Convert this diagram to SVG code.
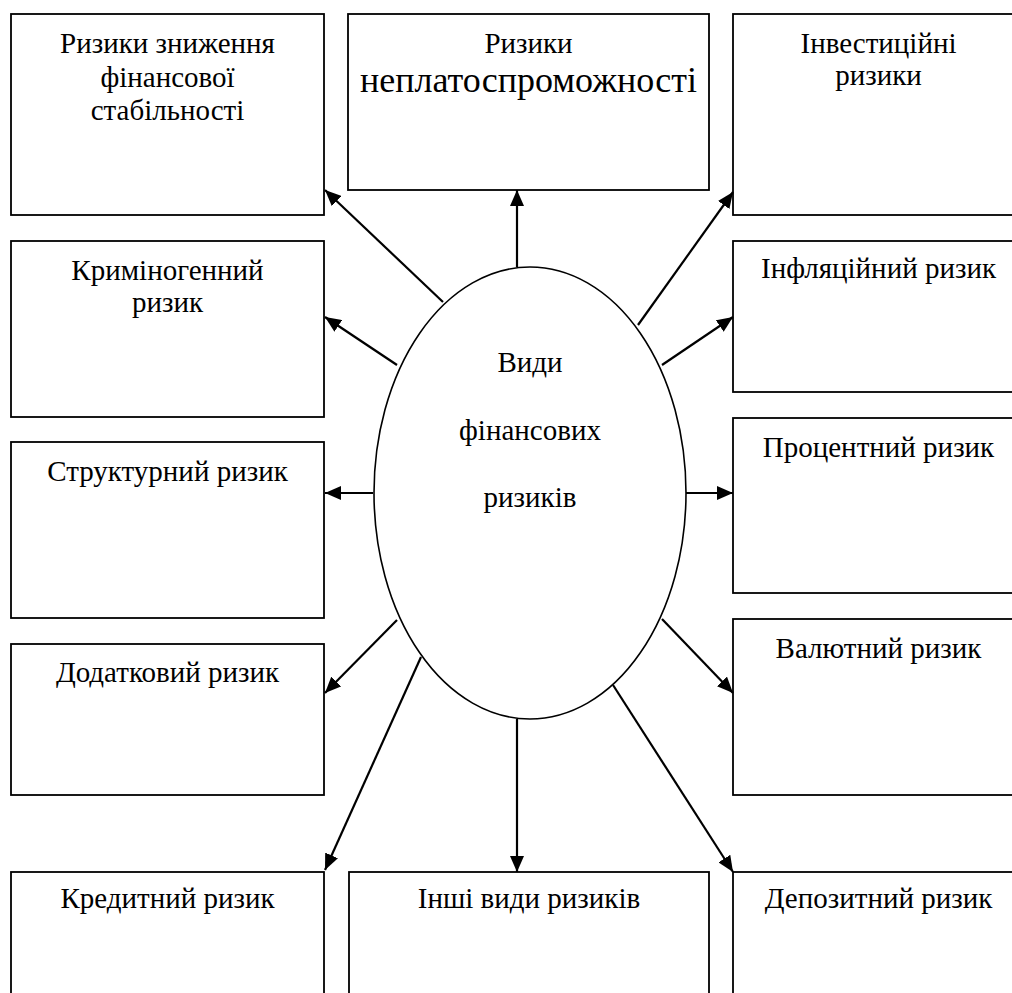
<svg xmlns="http://www.w3.org/2000/svg" width="1012" height="993" viewBox="0 0 1012 993">
<style>
.box{fill:#fff;stroke:#000;stroke-width:1.8}
.t{font-family:"Liberation Serif","Times New Roman",serif;font-size:29px;fill:#000;text-anchor:middle}
.big{font-size:36px}
.c{stroke:#000;stroke-width:2.2;fill:none;marker-end:url(#ah)}
</style>
<defs>
<marker id="ah" viewBox="0 0 16 14" refX="16" refY="7" markerWidth="16" markerHeight="14" markerUnits="userSpaceOnUse" orient="auto">
<path d="M0,0 L16,7 L0,14 Z" fill="#000"/>
</marker>
</defs>
<rect width="1012" height="993" fill="#fff"/>
<g id="n1"><rect class="box" x="11" y="14" width="313" height="201"/><text class="t" x="167.5" y="53">Ризики зниження</text><text class="t" x="167.5" y="87">фінансової</text><text class="t" x="167.5" y="120">стабільності</text></g>
<g id="n2"><rect class="box" x="348" y="14" width="361" height="176"/><text class="t" x="528.5" y="53">Ризики</text><text class="t big" x="528.5" y="92">неплатоспроможності</text></g>
<g id="n3"><rect class="box" x="733" y="14" width="320" height="201"/><text class="t" x="878.5" y="53">Інвестиційні</text><text class="t" x="878.5" y="85">ризики</text></g>
<g id="n4"><rect class="box" x="11" y="241" width="313" height="176"/><text class="t" x="167.5" y="280">Криміногенний</text><text class="t" x="167.5" y="312">ризик</text></g>
<g id="n5"><rect class="box" x="733" y="241" width="320" height="151"/><text class="t" x="878.5" y="278">Інфляційний ризик</text></g>
<g id="n6"><rect class="box" x="11" y="442" width="313" height="176"/><text class="t" x="167.5" y="481">Структурний ризик</text></g>
<g id="n7"><rect class="box" x="733" y="418" width="320" height="175"/><text class="t" x="878.5" y="457">Процентний ризик</text></g>
<g id="n8"><rect class="box" x="11" y="644" width="313" height="151"/><text class="t" x="167.5" y="682">Додатковий ризик</text></g>
<g id="n9"><rect class="box" x="733" y="619" width="320" height="176"/><text class="t" x="878.5" y="658">Валютний ризик</text></g>
<g id="n10"><rect class="box" x="11" y="872" width="313" height="140"/><text class="t" x="167.5" y="908">Кредитний ризик</text></g>
<g id="n11"><rect class="box" x="349" y="872" width="360" height="140"/><text class="t" x="529" y="908">Інші види ризиків</text></g>
<g id="n12"><rect class="box" x="733" y="872" width="320" height="140"/><text class="t" x="878.5" y="908">Депозитний ризик</text></g>
<g id="center"><ellipse cx="530" cy="493" rx="156" ry="226" fill="#fff" stroke="#000" stroke-width="1.6"/><text class="t" x="530" y="372">Види</text><text class="t" x="530" y="440">фінансових</text><text class="t" x="530" y="507">ризиків</text></g>
<g id="connectors">
<line class="c" x1="517" y1="267" x2="517" y2="190"/>
<line class="c" x1="443" y1="302" x2="325" y2="190"/>
<line class="c" x1="397" y1="365" x2="325" y2="317"/>
<line class="c" x1="373" y1="493" x2="325" y2="493"/>
<line class="c" x1="397" y1="620" x2="325" y2="693"/>
<line class="c" x1="421" y1="657" x2="325" y2="870"/>
<line class="c" x1="517" y1="719" x2="517" y2="872"/>
<line class="c" x1="613" y1="685" x2="733" y2="872"/>
<line class="c" x1="662" y1="619" x2="733" y2="693"/>
<line class="c" x1="686" y1="493" x2="733" y2="493"/>
<line class="c" x1="662" y1="365" x2="733" y2="317"/>
<line class="c" x1="638" y1="325" x2="733" y2="192"/>
</g>
</svg>
